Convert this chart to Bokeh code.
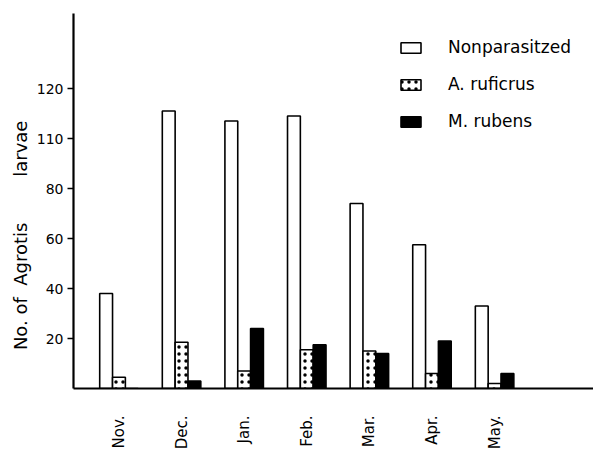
import math
from bokeh.plotting import figure
from bokeh.models import FixedTicker, Legend, LegendItem, Range1d
from bokeh.embed import file_html
from bokeh.resources import INLINE

months = ["Nov.", "Dec.", "Jan.", "Feb.", "Mar.", "Apr.", "May."]
nonparasitized = [38, 111, 107, 109, 74, 57.5, 33]
a_ruficrus = [4.5, 18.5, 7, 15.5, 15, 6, 2]
m_rubens = [0, 3, 24, 17.5, 14, 19, 6]
series_names = ["Nonparasitzed", "A. ruficrus", "M. rubens"]
y_tick_values = [20, 40, 60, 80, 100, 120]
y_tick_labels = ["20", "40", "60", "80", "110", "120"]
y_title_words = ["No.", "of", "Agrotis", "larvae"]

FONT = "DejaVu Sans"
NB = "\u00a0"
idx = list(range(len(months)))
bw = 0.205

y_title = (y_title_words[0] + NB + y_title_words[1] + NB * 2 + y_title_words[2]
           + NB * 8 + y_title_words[3] + NB * 12)

p = figure(width=593, height=452, output_backend="svg", toolbar_location=None,
           x_range=Range1d(-0.726, 7.58), y_range=Range1d(0, 150),
           min_border_left=73, min_border_right=0, min_border_top=13, min_border_bottom=0)
p.outline_line_color = None
p.xgrid.visible = False
p.ygrid.visible = False
p.background_fill_color = "white"

r1 = p.vbar(x=[i - bw for i in idx], top=nonparasitized, width=bw, bottom=0,
            fill_color="white", line_color="black", line_width=1.6)
r2 = p.vbar(x=idx, top=a_ruficrus, width=bw, bottom=0,
            fill_color="white", line_color="black", line_width=1.6,
            hatch_pattern="dot", hatch_color="black", hatch_scale=7, hatch_weight=0.9)
r3 = p.vbar(x=[i + bw for i in idx], top=m_rubens, width=bw, bottom=0,
            fill_color="black", line_color="black", line_width=1.6)

# y axis
ya = p.yaxis[0]
ya.ticker = FixedTicker(ticks=y_tick_values)
ya.major_label_overrides = {v: l for v, l in zip(y_tick_values, y_tick_labels)}
ya.axis_line_width = 2.2
ya.axis_line_color = "black"
ya.major_tick_out = 6
ya.major_tick_in = 0
ya.major_tick_line_width = 1.5
ya.minor_tick_out = 0
ya.minor_tick_in = 0
ya.major_label_standoff = 4
ya.major_label_text_font = FONT
ya.major_label_text_font_size = "14px"
ya.major_label_text_color = "black"
ya.axis_label = y_title
ya.axis_label_text_font = FONT
ya.axis_label_text_font_size = "18px"
ya.axis_label_text_font_style = "normal"
ya.axis_label_text_color = "black"
ya.axis_label_standoff = 3

# x axis
xa = p.xaxis[0]
xa.ticker = FixedTicker(ticks=idx)
xa.major_label_overrides = {i: m for i, m in zip(idx, months)}
xa.major_label_orientation = math.pi / 2
xa.axis_line_width = 2.2
xa.axis_line_color = "black"
xa.major_tick_out = 0
xa.major_tick_in = 0
xa.minor_tick_out = 0
xa.minor_tick_in = 0
xa.major_label_standoff = 27
xa.major_label_text_font = FONT
xa.major_label_text_font_size = "15px"
xa.major_label_text_color = "black"

legend = Legend(items=[LegendItem(label=series_names[0], renderers=[r1]),
                       LegendItem(label=series_names[1], renderers=[r2]),
                       LegendItem(label=series_names[2], renderers=[r3])],
                location=(325, 257), orientation="vertical")
legend.glyph_width = 25
legend.glyph_height = 13
legend.label_standoff = 25
legend.label_height = 20
legend.spacing = 17
legend.padding = 0
legend.margin = 0
legend.border_line_color = None
legend.background_fill_alpha = 0
legend.label_text_font = FONT
legend.label_text_font_size = "17px"
legend.label_text_color = "black"
p.add_layout(legend, "center")

open("out.html", "w").write(file_html(p, INLINE))
